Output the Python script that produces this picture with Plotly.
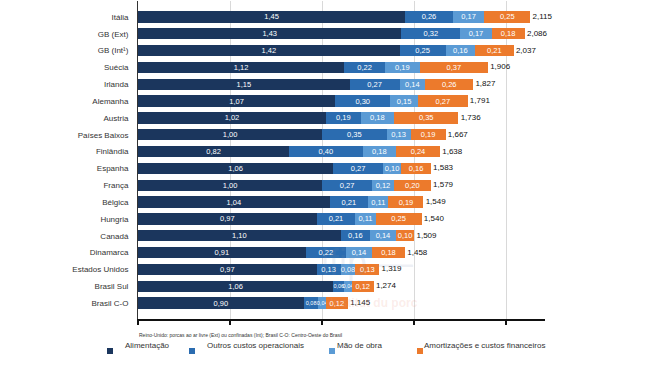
import plotly.graph_objects as go

countries = ["Itália", "GB (Ext)", "GB (Int¹)", "Suécia", "Irlanda", "Alemanha", "Austria",
             "Países Baixos", "Finlândia", "Espanha", "França", "Bélgica", "Hungria", "Canadá",
             "Dinamarca", "Estados Unidos", "Brasil Sul", "Brasil C-O"]
alimentacao = [1.45, 1.43, 1.42, 1.12, 1.15, 1.07, 1.02, 1.00, 0.82, 1.06, 1.00, 1.04, 0.97, 1.10, 0.91, 0.97, 1.06, 0.90]
outros = [0.26, 0.32, 0.25, 0.22, 0.27, 0.30, 0.19, 0.35, 0.40, 0.27, 0.27, 0.21, 0.21, 0.16, 0.22, 0.13, 0.06, 0.08]
mao_obra = [0.17, 0.17, 0.16, 0.19, 0.14, 0.15, 0.18, 0.13, 0.18, 0.10, 0.12, 0.11, 0.11, 0.14, 0.14, 0.08, 0.04, 0.04]
amortizacoes = [0.25, 0.18, 0.21, 0.37, 0.26, 0.27, 0.35, 0.19, 0.24, 0.16, 0.20, 0.19, 0.25, 0.10, 0.18, 0.13, 0.12, 0.12]
totais = ["2,115", "2,086", "2,037", "1,906", "1,827", "1,791", "1,736", "1,667", "1,638", "1,583",
          "1,579", "1,549", "1,540", "1,509", "1,458", "1,319", "1,274", "1,145"]
series_names = ["Alimentação", "Outros custos operacionais", "Mão de obra", "Amortizações e custos financeiros"]
colors = ["#1b365d", "#2b6cb0", "#5b9bd5", "#ec7a2c"]
footnote = "Reino-Unido: porcas ao ar livre (Ext) ou confinadas (Int); Brasil C-O: Centro-Oeste do Brasil"

FONT = "Liberation Sans, Arial, sans-serif"
ML, MR, MT, MB = 138, 105, 1, 47
W, H = 650, 366

def fmt(v):
    return f"{v:.2f}".replace(".", ",")

fig = go.Figure()
for name, vals, col in zip(series_names, [alimentacao, outros, mao_obra, amortizacoes], colors):
    fig.add_trace(go.Bar(
        y=countries, x=vals, name=name, orientation="h",
        marker=dict(color=col, line=dict(width=0)),
        text=[fmt(v) for v in vals], textposition="inside", textangle=0,
        insidetextanchor="middle", constraintext="none",
        textfont=dict(size=[5.5 if (c.startswith("Brasil") and v < 0.1) else 7.5 for c, v in zip(countries, vals)],
                      color="white", family=FONT),
        showlegend=False,
    ))

sums = [a + b + c + d for a, b, c, d in zip(alimentacao, outros, mao_obra, amortizacoes)]
fig.add_trace(go.Scatter(
    y=countries, x=sums, mode="text", text=[" " + t for t in totais], textposition="middle right",
    textfont=dict(size=8, color="#111", family=FONT), showlegend=False, cliponaxis=False,
))

fig.update_layout(
    width=W, height=H,
    margin=dict(l=ML, r=MR, t=MT, b=MB),
    barmode="stack", bargap=0.33,
    plot_bgcolor="white", paper_bgcolor="white",
    font=dict(family=FONT, size=8, color="#333"),
    xaxis=dict(range=[0, 2.21], dtick=0.5, showgrid=True, gridcolor="#d9d9d9", gridwidth=1,
               showticklabels=False, ticks="outside", ticklen=4, tickcolor="#111", tickwidth=1.5,
               showline=True, linecolor="#111", linewidth=1.8, zeroline=False, fixedrange=True,
               automargin=False),
    yaxis=dict(autorange="reversed", showline=True, linecolor="#333", linewidth=1,
               ticks="", ticklabelstandoff=7, tickfont=dict(size=8, color="#333", family=FONT),
               automargin=False),
)

pw, ph = W - ML - MR, H - MT - MB
def px(x):
    return (x - ML) / pw
def py(y):
    return (H - MB - y) / ph

# watermark
fig.add_annotation(x=px(415), y=py(285), xref="paper", yref="paper", text="ifip —", showarrow=False,
                   font=dict(size=36, color="rgba(120,140,175,0.13)", family=FONT))
fig.add_annotation(x=px(420), y=py(312), xref="paper", yref="paper", text="<b>Institut du porc</b>", showarrow=False,
                   font=dict(size=12, color="rgba(235,150,130,0.18)", family=FONT))

# footnote
fig.add_annotation(x=px(137), y=py(335), xref="paper", yref="paper", text=footnote, showarrow=False,
                   xanchor="left", yanchor="middle", font=dict(size=5, color="#333", family=FONT))

# manual legend
legend_pos = [(110, 123), (192, 205), (332, 335), (420, 422)]
for (mx, tx), name, col in zip(legend_pos, series_names, colors):
    fig.add_shape(type="rect", xref="paper", yref="paper",
                  x0=px(mx - 3), x1=px(mx + 3), y0=py(354), y1=py(348),
                  fillcolor=col, line=dict(width=0))
    fig.add_annotation(x=px(tx), y=py(345), xref="paper", yref="paper", text=name, showarrow=False,
                       xanchor="left", yanchor="middle", font=dict(size=8, color="#333", family=FONT))

fig.write_html("out.html", config={"displayModeBar": False},
               post_script="document.body.style.margin='0';document.body.style.overflow='hidden';")
